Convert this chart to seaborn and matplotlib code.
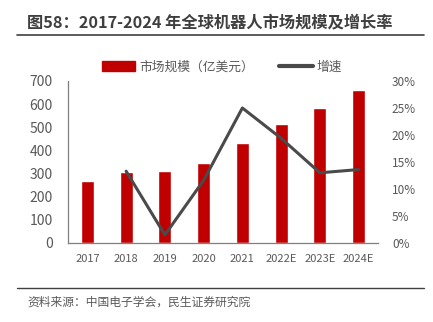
import matplotlib
matplotlib.use("Agg")
import matplotlib.pyplot as plt
import seaborn as sns
import pandas as pd
from matplotlib.patches import Patch
from matplotlib.lines import Line2D

years = ["2017", "2018", "2019", "2020", "2021", "2022E", "2023E", "2024E"]
market = [270, 306, 310, 346, 432, 516, 583, 662]
growth_years = ["2018", "2019", "2020", "2021", "2022E", "2023E", "2024E"]
growth = [13.3, 1.5, 11.6, 25.0, 19.4, 13.0, 13.6]

title = "图58：2017-2024 年全球机器人市场规模及增长率"
source = "资料来源：中国电子学会，民生证券研究院"
bar_label = "市场规模（亿美元）"
line_label = "增速"

sns.set_theme(style="white")
plt.rcParams["font.family"] = ["Noto Sans CJK SC", "DejaVu Sans"]

RED = "#C00000"
LINE = "#4A4A4A"
TXT = "#595959"

fig = plt.figure(figsize=(4.33, 3.22), dpi=100)
ax = fig.add_axes([68/433, 1-243/322, 310/433, 162/322])

df = pd.DataFrame({"year": years, "market": market})
sns.barplot(data=df, x="year", y="market", order=years, color=RED,
            saturation=1, width=0.34, ax=ax)
ax.set_ylim(0, 700)
ax.set_yticks(range(0, 701, 100))
ax.set_xlabel("")
ax.set_ylabel("")
ax.tick_params(axis="y", labelsize=10, colors=TXT, length=0, pad=11)
ax.tick_params(axis="x", labelsize=8, colors=TXT, length=0, pad=8)
for s in ["top", "right"]:
    ax.spines[s].set_visible(False)
ax.spines["left"].set_color("#7F7F7F")
ax.spines["bottom"].set_color("#7F7F7F")
ax.spines["left"].set_linewidth(0.9)
ax.spines["bottom"].set_linewidth(0.9)

ax2 = ax.twinx()
gdf = pd.DataFrame({"pos": [years.index(y) for y in growth_years], "growth": growth})
sns.lineplot(data=gdf, x="pos", y="growth", color=LINE, linewidth=2.2, ax=ax2)
ax2.set_ylim(0, 30)
ax2.set_yticks(range(0, 31, 5))
ax2.set_yticklabels([f"{v}%" for v in range(0, 31, 5)])
ax2.set_xlabel("")
ax2.set_ylabel("")
ax2.tick_params(axis="y", labelsize=8.5, colors=TXT, length=0, pad=10)
for s in ["top", "right", "left", "bottom"]:
    ax2.spines[s].set_visible(False)
ax.set_xlim(-0.5, len(years) - 0.5)
ax2.set_xlim(-0.5, len(years) - 0.5)

handles = [Patch(facecolor=RED, edgecolor=RED),
           Line2D([0], [0], color=LINE, linewidth=3)]
fig.legend(handles, [bar_label, line_label], loc="center",
           bbox_to_anchor=(222/433, 1-67/322), ncol=2, frameon=False,
           fontsize=9.2, labelcolor=TXT, handlelength=2.6, handleheight=0.9,
           columnspacing=2.0, handletextpad=0.3)

fig.text(27/433, 1-22/322, title, fontsize=11.7, fontweight="bold",
         color="#3F3F3F", va="center", ha="left")
fig.add_artist(Line2D([17/433, 424/433], [1-35/322, 1-35/322],
                      color="#404040", linewidth=1.2, transform=fig.transFigure))
fig.add_artist(Line2D([17/433, 424/433], [1-288/322, 1-288/322],
                      color="#404040", linewidth=1.0, transform=fig.transFigure))
fig.text(27/433, 1-302/322, source, fontsize=8.5, color=TXT,
         va="center", ha="left")

fig.savefig("out.png", dpi=100)
